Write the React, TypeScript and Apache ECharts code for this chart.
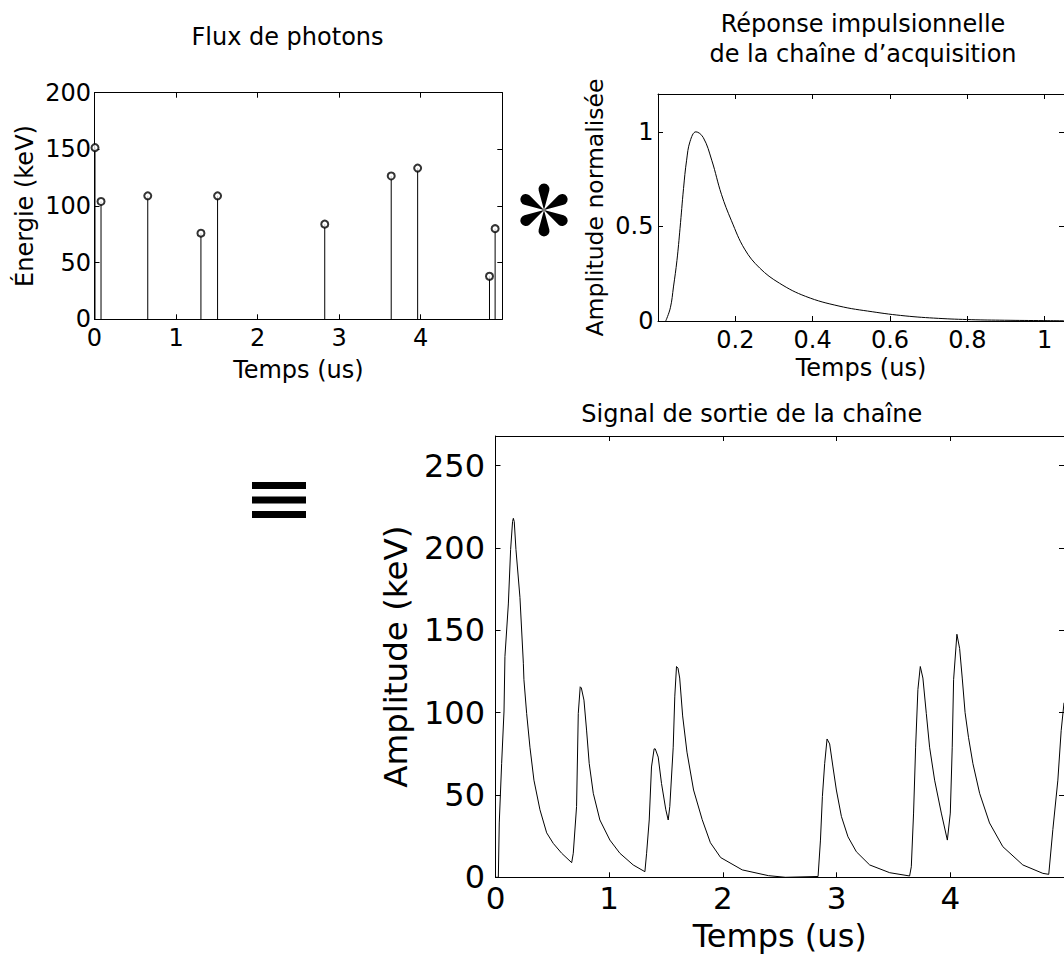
import React, { useEffect, useRef } from "react";
import * as echarts from "echarts";

// ---------- DATA ----------
// Photon flux (stem plot): arrival time (us) and energy (keV)
const photonTime = [0.006, 0.08, 0.653, 1.305, 1.509, 2.823, 3.638, 3.962, 4.843, 4.912];
const photonEnergy = [151.5, 104, 109, 76, 109, 84, 126.5, 133.5, 38, 80];

// Impulse response of the acquisition chain (normalised)
const responseTime = [0.02, 0.032, 0.04, 0.049, 0.057, 0.066, 0.074, 0.083, 0.098, 0.117, 0.139, 0.164, 0.19, 0.224, 0.263, 0.314, 0.382, 0.468, 0.554, 0.639, 0.725, 0.81, 0.896, 0.998, 1.05];
const responseAmp = [0, 0.07, 0.18, 0.32, 0.49, 0.7, 0.85, 0.95, 1.0, 0.97, 0.85, 0.67, 0.53, 0.38, 0.28, 0.2, 0.13, 0.079, 0.049, 0.027, 0.014, 0.007, 0.004, 0.002, 0.001];

// Output signal of the chain (keV)
const outputTime = [
  0, 0.025, 0.033, 0.054, 0.075, 0.083, 0.113, 0.133, 0.15, 0.157, 0.165, 0.18, 0.215, 0.245, 0.25, 0.274, 0.303, 0.338, 0.391, 0.45, 0.508, 0.582, 0.67,
  0.684, 0.713, 0.728, 0.745, 0.755, 0.778, 0.801, 0.824, 0.86, 0.918, 1.006, 1.094, 1.211, 1.314,
  1.329, 1.352, 1.372, 1.395, 1.405, 1.431, 1.46, 1.498, 1.519, 1.533, 1.563, 1.577, 1.592, 1.605, 1.62, 1.646, 1.684, 1.742, 1.818, 1.89, 1.98, 2.17, 2.4, 2.55,
  2.837, 2.858, 2.875, 2.895, 2.916, 2.939, 2.968, 2.998, 3.042, 3.1, 3.174, 3.291, 3.467, 3.642,
  3.657, 3.677, 3.695, 3.715, 3.736, 3.759, 3.789, 3.818, 3.862, 3.921, 3.974,
  4.0, 4.017, 4.029, 4.058, 4.082, 4.105, 4.13, 4.16, 4.199, 4.258, 4.345, 4.462, 4.638, 4.814, 4.866,
  4.902, 4.946, 4.975, 5.0,
];
const outputAmp = [
  0, 0, 33, 69, 101, 134, 166, 199, 216, 218, 216, 199, 170, 130, 120, 99.5, 79, 59, 41, 27, 20.6, 14.6, 8.9,
  14.6, 43, 99.5, 115.7, 115, 107.6, 89.4, 69.2, 51, 34.8, 22.6, 14.6, 7.5, 3.4,
  14.6, 34.8, 67, 78, 78, 73, 57, 41, 34.8, 43, 79, 110, 128, 127, 121, 98, 76, 53, 35, 21, 12, 4.5, 1, 0,
  0.5, 22.6, 49, 69, 84, 81, 67, 53, 37, 24.6, 15.5, 7.5, 2.8, 0.8,
  6.4, 39, 79, 114, 128, 121, 99.5, 79, 59, 39, 22.6,
  39, 79, 120, 147.6, 139, 121, 100, 85, 69, 51, 33, 18.6, 7.5, 2.4, 1.8,
  29, 59, 89, 106,
];

// ---------- STYLE HELPERS ----------
const FONT = "DejaVu Sans";
const BLACK = "#000";

function asteriskPath(): string {
  const D = 21;
  const R = 5.5;
  const L = Math.sqrt(D * D - R * R);
  const a = Math.asin(R / D);
  let d = "";
  for (let k = 0; k < 6; k++) {
    const th = -Math.PI / 2 + (k * Math.PI) / 3;
    const p1x = L * Math.cos(th - a);
    const p1y = L * Math.sin(th - a);
    const p2x = L * Math.cos(th + a);
    const p2y = L * Math.sin(th + a);
    d += `M0 0L${p1x.toFixed(2)} ${p1y.toFixed(2)}A${R} ${R} 0 1 1 ${p2x.toFixed(2)} ${p2y.toFixed(2)}Z`;
  }
  return d;
}

function axis(
  gridIndex: number,
  position: string,
  min: number,
  max: number,
  interval: number,
  labels: any,
  name?: string,
  nameGap?: number,
  nameSize?: number
) {
  const a: any = {
    type: "value",
    gridIndex,
    position,
    min,
    max,
    interval,
    axisLine: { show: true, onZero: false, lineStyle: { color: BLACK, width: 1 } },
    axisTick: { show: true, inside: true, length: 5, lineStyle: { color: BLACK, width: 1 } },
    splitLine: { show: false },
    axisLabel: labels
      ? { color: BLACK, fontFamily: FONT, ...labels }
      : { show: false },
  };
  if (name) {
    a.name = name;
    a.nameLocation = "middle";
    a.nameGap = nameGap;
    a.nameTextStyle = {
      color: BLACK,
      fontFamily: FONT,
      fontSize: nameSize,
      verticalAlign: "middle",
      align: "center",
    };
  }
  return a;
}

function titleAt(text: string, x: number, top: number) {
  return {
    text,
    left: x,
    top,
    textAlign: "center",
    padding: 0,
    textStyle: {
      color: BLACK,
      fontFamily: FONT,
      fontSize: 24,
      fontWeight: "normal",
      lineHeight: 30,
    },
  };
}

export default function App() {
  const ref = useRef<HTMLDivElement>(null);

  useEffect(() => {
    document.body.style.margin = "0";
    const el = ref.current!;
    echarts.graphic.registerShape(
      "asteriskMark",
      (echarts.graphic as any).extendPath(asteriskPath(), {})
    );
    const chart = echarts.init(el, null, { renderer: "svg" });

    const option: any = {
      animation: false,
      backgroundColor: "#fff",
      title: [
        titleAt("Flux de photons", 287.5, 22),
        titleAt("Réponse impulsionnelle\nde la chaîne d’acquisition", 863, 9),
        titleAt("Signal de sortie de la chaîne", 751.7, 398.7),
      ],
      grid: [
        { left: 94.5, top: 92.7, width: 407.8, height: 226.6 },
        { left: 658, top: 94, width: 410.1, height: 227 },
        { left: 495.5, top: 436, width: 569, height: 441.3 },
      ],
      xAxis: [
        axis(0, "bottom", 0, 5, 1, { fontSize: 24, margin: 7, showMaxLabel: false }, "Temps (us)", 51, 24),
        axis(0, "top", 0, 5, 1, null),
        axis(1, "bottom", 0, 1.05, 0.2, { fontSize: 24, margin: 7, showMinLabel: false, showMaxLabel: false }, "Temps (us)", 47, 24),
        axis(1, "top", 0, 1.05, 0.2, null),
        axis(2, "bottom", 0, 5, 1, { fontSize: 31, margin: 5, showMaxLabel: false }, "Temps (us)", 58.7, 32),
        axis(2, "top", 0, 5, 1, null),
      ],
      yAxis: [
        axis(0, "left", 0, 200, 50, { fontSize: 24, margin: 3.5 }, "Énergie (keV)", 70, 24),
        axis(0, "right", 0, 200, 50, null),
        axis(1, "left", 0, 1.2, 0.5, { fontSize: 24, margin: 4.5, showMaxLabel: false }, "Amplitude normalisée", 62.8, 23.5),
        axis(1, "right", 0, 1.2, 0.5, null),
        axis(2, "left", 0, 268, 50, { fontSize: 32, margin: 10.5, showMaxLabel: false }, "Amplitude (keV)", 100, 32.5),
        axis(2, "right", 0, 268, 50, null),
      ],
      series: [
        {
          type: "custom",
          name: "stems",
          xAxisIndex: 0,
          yAxisIndex: 0,
          data: photonTime.map((t, i) => [t, photonEnergy[i]]),
          renderItem: (_params: any, api: any) => {
            const top = api.coord([api.value(0), api.value(1)]);
            const base = api.coord([api.value(0), 0]);
            return {
              type: "line",
              shape: { x1: top[0], y1: top[1], x2: base[0], y2: base[1] },
              style: { stroke: BLACK, lineWidth: 1 },
            };
          },
          silent: true,
        },
        {
          type: "scatter",
          name: "photons",
          xAxisIndex: 0,
          yAxisIndex: 0,
          data: photonTime.map((t, i) => [t, photonEnergy[i]]),
          symbol: "emptyCircle",
          symbolSize: 7,
          clip: false,
          itemStyle: { color: BLACK, borderColor: BLACK, borderWidth: 1 },
          silent: true,
        },
        {
          type: "line",
          name: "réponse",
          xAxisIndex: 2,
          yAxisIndex: 2,
          data: responseTime.map((t, i) => [t, responseAmp[i]]),
          showSymbol: false,
          smooth: 0.4,
          lineStyle: { color: BLACK, width: 1 },
          silent: true,
        },
        {
          type: "line",
          name: "sortie",
          xAxisIndex: 4,
          yAxisIndex: 4,
          data: outputTime.map((t, i) => [t, outputAmp[i]]),
          showSymbol: false,
          lineStyle: { color: BLACK, width: 1 },
          silent: true,
        },
      ],
      graphic: [
        { type: "asteriskMark", x: 544, y: 210, style: { fill: BLACK } },
        { type: "rect", shape: { x: 252, y: 482, width: 54, height: 7 }, style: { fill: BLACK } },
        { type: "rect", shape: { x: 252, y: 496.5, width: 54, height: 7 }, style: { fill: BLACK } },
        { type: "rect", shape: { x: 252, y: 511, width: 54, height: 7 }, style: { fill: BLACK } },
      ],
    };

    chart.setOption(option);
    return () => chart.dispose();
  }, []);

  return (
    <div
      ref={ref}
      style={{ position: "absolute", left: 0, top: 0, width: 1064, height: 963, background: "#fff" }}
    />
  );
}
